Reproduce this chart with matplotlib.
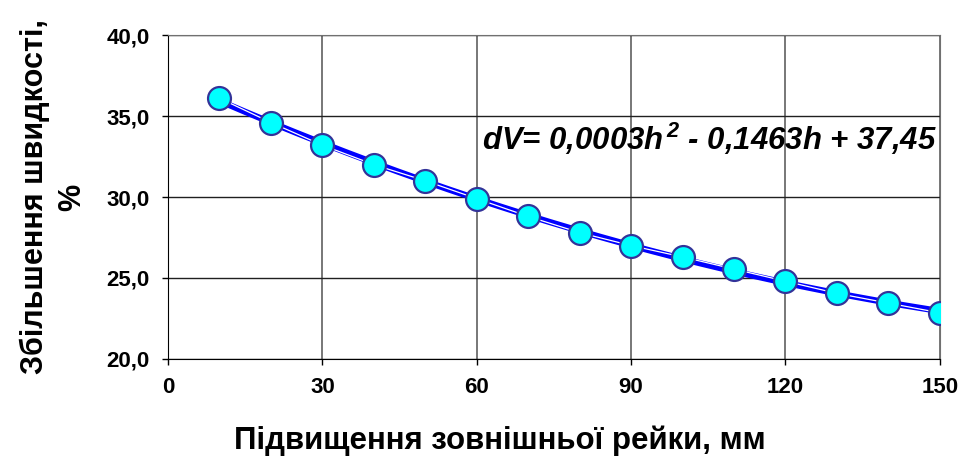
import numpy as np
import matplotlib.pyplot as plt
from matplotlib.ticker import FuncFormatter

# Дані з графіка
h = [10, 20, 30, 40, 50, 60, 70, 80, 90, 100, 110, 120, 130, 140, 150]
dv = [36.1, 34.6, 33.2, 32.0, 31.0, 29.9, 28.8, 27.8, 27.0, 26.3, 25.55, 24.8, 24.05, 23.45, 22.85]
x_ticks = [0, 30, 60, 90, 120, 150]
y_ticks = [20, 25, 30, 35, 40]

plt.rcParams['font.family'] = ['Liberation Sans', 'DejaVu Sans']
plt.rcParams['mathtext.fontset'] = 'custom'
plt.rcParams['mathtext.rm'] = 'Liberation Sans:bold:italic'
plt.rcParams['mathtext.it'] = 'Liberation Sans:bold:italic'
plt.rcParams['mathtext.bf'] = 'Liberation Sans:bold:italic'

fig = plt.figure(figsize=(9.62, 4.61), dpi=100)
ax = fig.add_axes([0.1746, 0.2213, 0.8024, 0.7027])

# Поліноміальний тренд 2-го ступеня
coef = np.polyfit(h, dv, 2)
hh = np.linspace(min(h), max(h), 200)
ax.plot(hh, np.polyval(coef, hh), color='#0000ff', lw=4.5, zorder=3, solid_capstyle='butt')
ax.plot(h, dv, color='white', lw=0.9, zorder=4)
ax.plot(h, dv, 'o', ms=16.5, mfc='#00ffff', mec='#333399', mew=1.6, zorder=5)

ax.set_xlim(0, 150)
ax.set_ylim(20, 40)
ax.set_xticks(x_ticks)
ax.set_yticks(y_ticks)
ax.yaxis.set_major_formatter(FuncFormatter(lambda v, p: f'{v:.1f}'.replace('.', ',')))
ax.tick_params(axis='both', direction='out', length=4, width=1, labelsize=16, pad=9)
for lab in ax.get_xticklabels() + ax.get_yticklabels():
    lab.set_fontweight('bold')

ax.grid(True, axis='x', color='#606060', lw=1.2)
ax.grid(True, axis='y', color='#202020', lw=1.0)
ax.set_axisbelow(True)
for s in ['top', 'right']:
    ax.spines[s].set_color('#707070')
ax.spines['left'].set_color('black')
ax.spines['bottom'].set_color('black')

ax.text(61, 33.6, r'dV= 0,0003h$^{\,2}$ - 0,1463h + 37,45', fontsize=22.4, fontweight='bold',
        fontstyle='italic', va='center', ha='left', zorder=6)

ax.set_xlabel('Підвищення зовнішньої рейки, мм', fontsize=22.5, fontweight='bold')
ax.xaxis.set_label_coords(0.43, -0.205)
ax.set_ylabel('Збільшення швидкості,\n%', fontsize=22, fontweight='bold', labelpad=14,
              linespacing=1.3)

fig.savefig('out.png', dpi=100)
